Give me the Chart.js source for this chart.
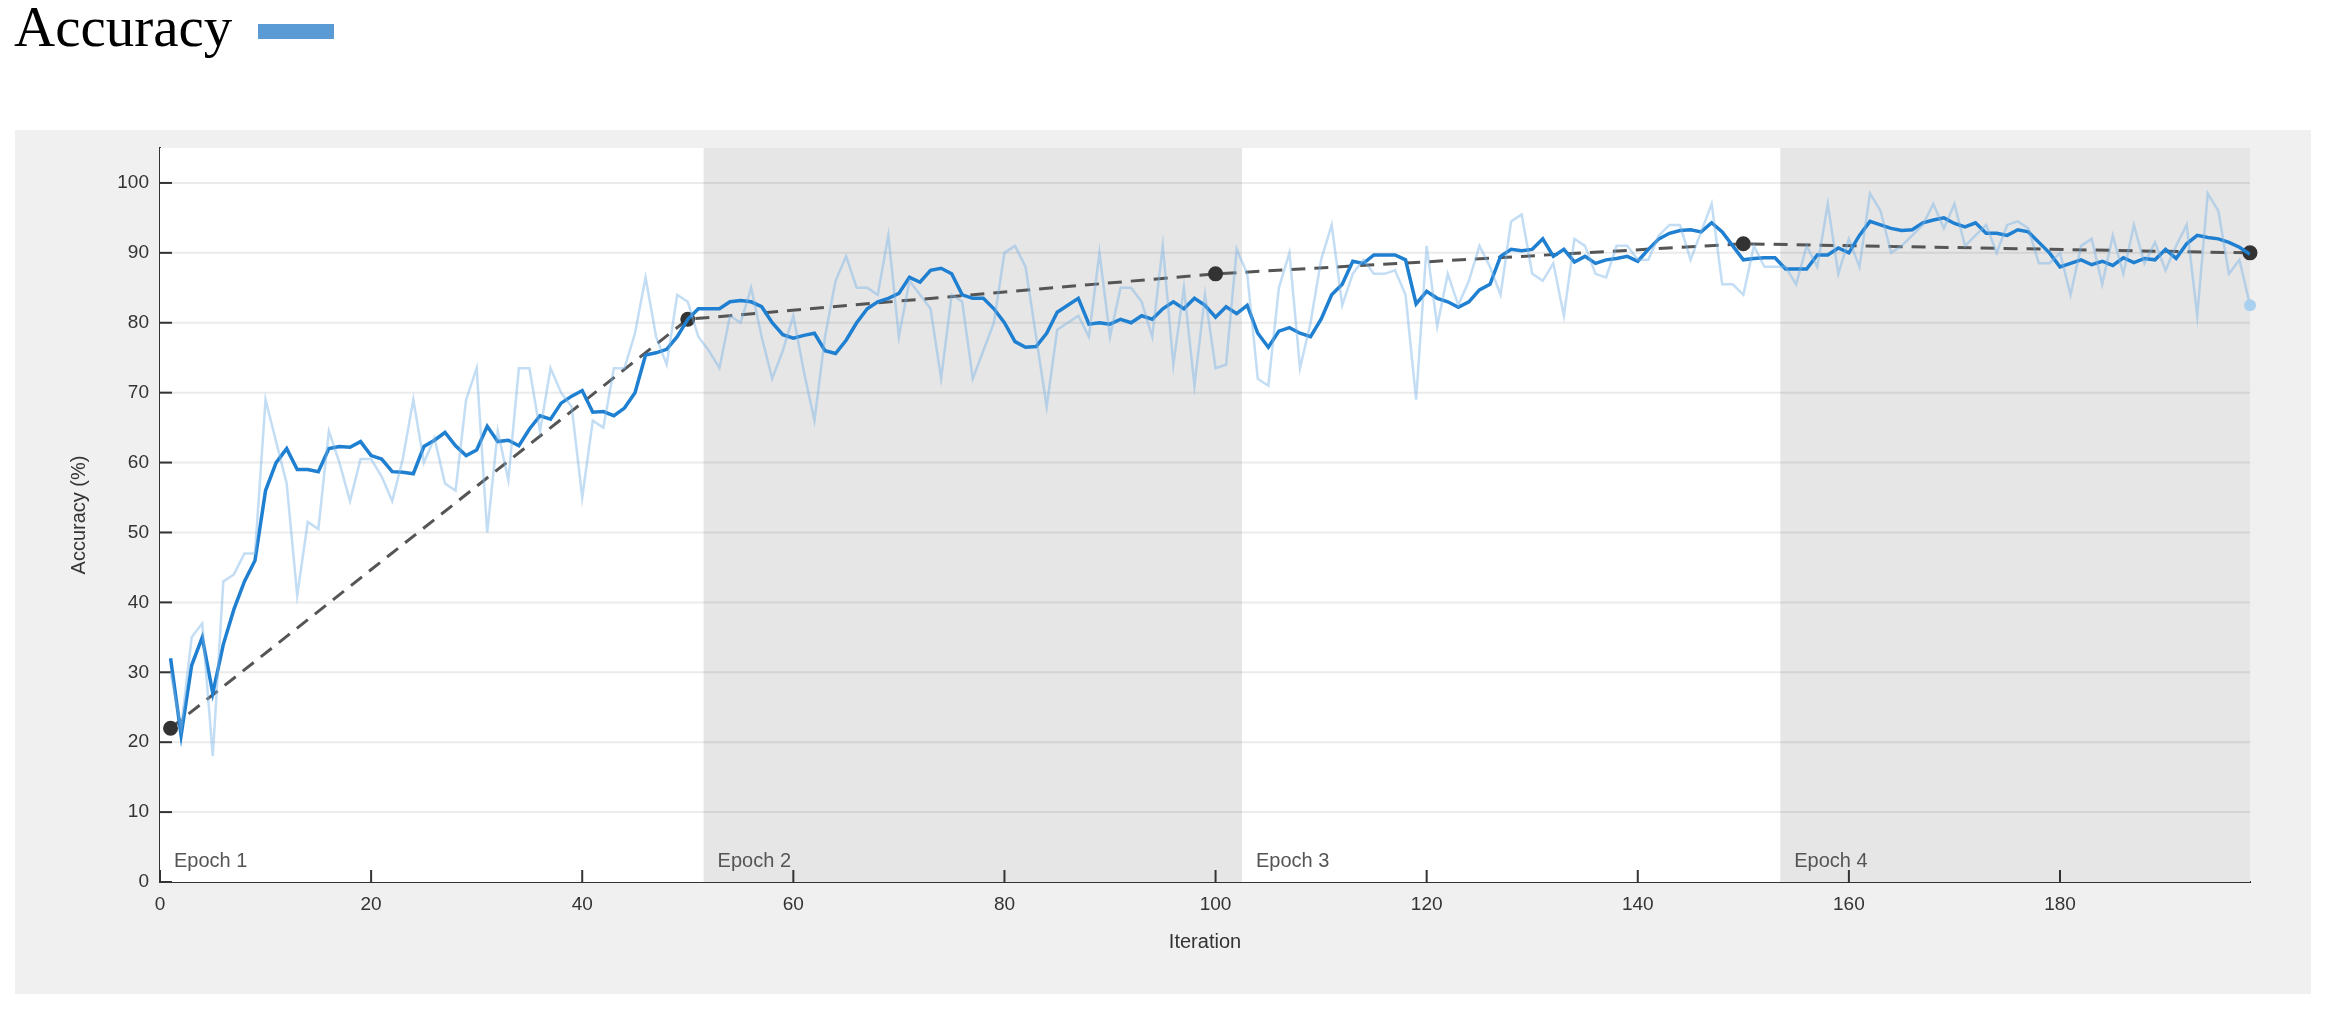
<!DOCTYPE html>
<html>
<head>
<meta charset="utf-8">
<script src="https://cdn.jsdelivr.net/npm/chart.js@4/dist/chart.umd.min.js"></script>
<style>
  body { margin: 0; background: #fff; width: 2326px; height: 1011px; position: relative; overflow: hidden; }
  #title { position: absolute; left: 14px; top: -6px; font-family: "Liberation Serif", serif; font-size: 57px; color: #000; }
  #swatch { position: absolute; left: 258px; top: 24px; width: 76px; height: 15px; background: #5b9bd5; }
  #panel { position: absolute; left: 15px; top: 130px; width: 2296px; height: 864px; background: #f0f0f0; }
</style>
</head>
<body>
<div id="title">Accuracy</div>
<div id="swatch"></div>
<div id="panel"><canvas id="chart" width="2296" height="864"></canvas></div>
<script>
// Training accuracy per iteration (raw and smoothed)
const rawAccuracy = [30,22,35,37,18,43,44,47,47,69,63,57,41,51.5,50.5,64.5,60,54.5,60.5,60.5,
  58,54.5,60.5,69,60,63.5,57,56,69,73.5,50,64.5,57.5,73.5,73.5,64.5,73.5,70,68,55,
  66,65,73.5,73.5,78.5,86.5,78,74,84,83,78,76,73.5,81,80,85,78,72,76,81,
  73,66,78,86,89.5,85,85,84,92.5,78,86,84,82,72,84,83,72,76,80,90,
  91,88,78,68,79,80,81,78,90,78,85,85,83,78,91,74,85,71,84,73.5,
  74,90.5,87,72,71,85,90,73.5,80,89,94,82.5,87,89,87,87,87.5,84,69,91,
  79.5,87,82.5,86,91,88,84,94.5,95.5,87,86,88.5,81,92,91,87,86.5,91,91,89,
  89,92.5,94,94,89,93,97,85.5,85.5,84,91,88,88,88,85.5,91,88,97,87,92,
  88,98.5,96,90,91,92.5,94,97,93.5,97,91,92.5,94,90,94,94.5,93.5,88.5,88.5,90,
  84,91,92,85.5,92.5,87,94,88.5,91.5,87.5,91,94,81,98.5,96,87,89,82.5];
const smoothAccuracy = [32,21,31,35,27,34,39,43,46,56,60,62,59,59,58.7,62,62.3,62.2,63,61,
  60.5,58.7,58.6,58.4,62.3,63.2,64.3,62.4,61,61.8,65.2,63,63.2,62.4,64.8,66.7,66.2,68.5,69.5,70.3,
  67.2,67.3,66.7,67.8,70,75.4,75.7,76.2,78,80.5,82,82,82,83,83.2,83,82.3,80,78.3,77.8,
  78.2,78.5,76,75.6,77.5,80,82,83,83.5,84.2,86.5,85.8,87.5,87.8,87,84,83.5,83.5,82,80,
  77.3,76.5,76.6,78.5,81.5,82.5,83.5,79.8,80,79.8,80.5,80,81,80.5,82,83,82,83.5,82.5,80.8,
  82.3,81.3,82.5,78.5,76.5,78.8,79.3,78.5,78,80.5,84,85.5,88.8,88.5,89.7,89.7,89.7,89,82.7,84.5,
  83.5,83,82.2,83,84.7,85.5,89.5,90.5,90.3,90.5,92,89.5,90.5,88.7,89.5,88.5,89,89.2,89.5,88.8,
  90.5,92,92.8,93.2,93.3,93,94.3,93,91,89,89.2,89.3,89.3,87.7,87.7,87.7,89.7,89.7,90.7,90,
  92.5,94.5,94,93.5,93.2,93.3,94.3,94.7,95,94.2,93.7,94.3,92.8,92.8,92.5,93.3,93,91.5,90,88,
  88.5,89,88.3,88.8,88.2,89.3,88.6,89.2,89,90.5,89.2,91.3,92.5,92.2,92,91.5,90.8,89.8];
// Validation accuracy
const validationIters = [1, 50, 100, 150, 198];
const validationAccuracy = [22, 80.5, 87, 91.3, 90];
// Epoch boundaries (iteration)
const epochStarts = [0, 51.5, 102.5, 153.5];
const epochLabels = ['Epoch 1', 'Epoch 2', 'Epoch 3', 'Epoch 4'];
const xMax = 198;

const toPoints = arr => arr.map((v, i) => ({ x: i + 1, y: v }));

const epochPlugin = {
  id: 'epochs',
  beforeDatasetsDraw(chart) {
    const { ctx, chartArea, scales } = chart;
    ctx.save();
    ctx.fillStyle = '#fff';
    ctx.fillRect(chartArea.left, chartArea.top, chartArea.width, chartArea.height);
    epochStarts.forEach((s, i) => {
      const x0 = scales.x.getPixelForValue(s);
      const x1 = i + 1 < epochStarts.length ? scales.x.getPixelForValue(epochStarts[i + 1]) : chartArea.right;
      if (i % 2 === 1) {
        ctx.fillStyle = '#e6e6e6';
        ctx.fillRect(x0, chartArea.top, x1 - x0, chartArea.height);
      }
    });
    // horizontal grid
    ctx.strokeStyle = 'rgba(0,0,0,0.08)';
    ctx.lineWidth = 2;
    for (let v = 10; v <= 100; v += 10) {
      const y = scales.y.getPixelForValue(v);
      ctx.beginPath(); ctx.moveTo(chartArea.left, y); ctx.lineTo(chartArea.right, y); ctx.stroke();
    }
    // tick marks
    ctx.strokeStyle = '#333';
    for (let v = 0; v <= 180; v += 20) {
      const x = scales.x.getPixelForValue(v);
      ctx.beginPath(); ctx.moveTo(x, chartArea.bottom); ctx.lineTo(x, chartArea.bottom - 12); ctx.stroke();
    }
    for (let v = 0; v <= 100; v += 10) {
      const y = scales.y.getPixelForValue(v);
      ctx.beginPath(); ctx.moveTo(chartArea.left, y); ctx.lineTo(chartArea.left + 12, y); ctx.stroke();
    }
    ctx.fillStyle = '#555';
    ctx.font = '20px "Liberation Sans", Arial, sans-serif';
    ctx.textBaseline = 'bottom';
    epochStarts.forEach((s, i) => {
      ctx.fillText(epochLabels[i], scales.x.getPixelForValue(s) + 14, scales.y.getPixelForValue(1.5));
    });
    ctx.restore();
  }
};

new Chart(document.getElementById('chart'), {
  type: 'line',
  data: {
    datasets: [
      { data: toPoints(rawAccuracy), borderColor: 'rgba(120,180,230,0.45)', borderWidth: 2.5,
        pointRadius: ctx => ctx.dataIndex === rawAccuracy.length - 1 ? 6 : 0,
        pointBackgroundColor: '#a9d0ef', pointBorderWidth: 0, tension: 0, clip: false },
      { data: toPoints(smoothAccuracy), borderColor: '#1f7fd0', borderWidth: 3.5, pointRadius: 0, tension: 0 },
      { data: validationIters.map((x, i) => ({ x, y: validationAccuracy[i] })),
        borderColor: '#555', borderWidth: 3, borderDash: [14, 9], pointRadius: 6,
        pointBackgroundColor: '#333', pointBorderColor: '#333', tension: 0, clip: false }
    ]
  },
  options: {
    responsive: false,
    animation: false,
    layout: { padding: { top: 18, right: 61, left: 52, bottom: 40 } },
    plugins: { legend: { display: false }, tooltip: { enabled: false } },
    scales: {
      x: {
        type: 'linear', min: 0, max: xMax,
        afterFit: s => { s.height = 72; },
        afterBuildTicks: s => { s.ticks = s.ticks.filter(t => t.value % 20 === 0); },
        ticks: { stepSize: 20, color: '#333', font: { size: 19, family: 'Liberation Sans' } },
        grid: { display: false },
        border: { color: '#333', width: 2 },
        title: { display: true, text: 'Iteration', color: '#333', padding: 0, font: { size: 20, family: 'Liberation Sans' } }
      },
      y: {
        min: 0, max: 105,
        afterFit: s => { s.width = 93; },
        afterBuildTicks: s => { s.ticks = s.ticks.filter(t => t.value <= 100); },
        ticks: { stepSize: 10, color: '#333', font: { size: 19, family: 'Liberation Sans' } },
        grid: { display: false },
        border: { color: '#333', width: 2 },
        title: { display: true, text: 'Accuracy (%)', color: '#333', padding: 0, font: { size: 20, family: 'Liberation Sans' } }
      }
    }
  },
  plugins: [epochPlugin]
});
</script>
</body>
</html>
